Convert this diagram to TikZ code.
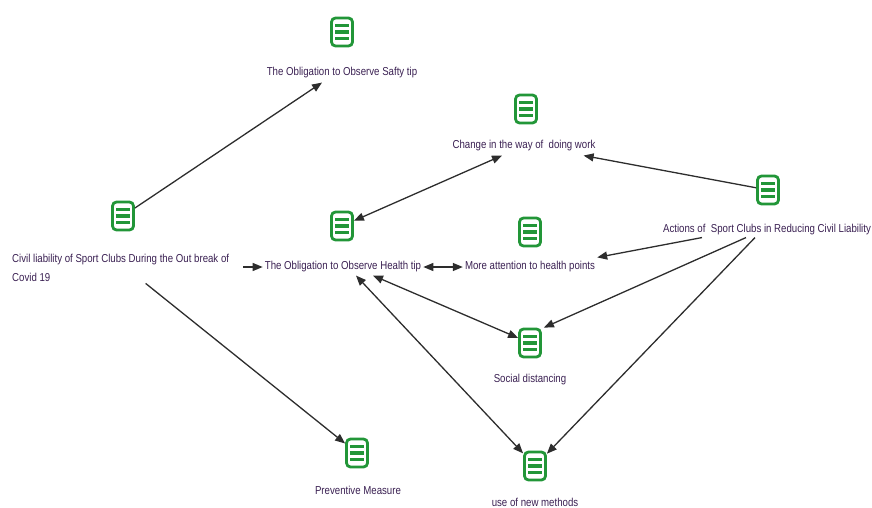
\documentclass[tikz,border=0pt]{standalone}
\usepackage{fontspec}
\setmainfont{Liberation Sans}[FakeStretch=0.84]
\usetikzlibrary{arrows.meta}
\definecolor{icongreen}{RGB}{34,150,56}
\definecolor{txt}{RGB}{58,32,82}
\definecolor{edge}{RGB}{45,45,45}
\tikzset{
  docicon/.style={draw=icongreen, line width=2.8pt, rounded corners=4pt, fill=white,
    minimum width=21pt, minimum height=28pt, inner sep=0pt,
    path picture={
      \foreach \yy in {-6.3,0,6.3}{
        \draw[icongreen, line width=3.4pt] ([xshift=-6.6pt,yshift=\yy pt]path picture bounding box.center) -- ([xshift=6.6pt,yshift=\yy pt]path picture bounding box.center);
      }
    }},
  lbl/.style={text=txt, font=\fontsize{11.5}{19}\selectfont, inner sep=2pt},
  conn/.style={draw=edge, line width=1.3pt, -{Triangle[length=10pt,width=8pt]}},
  bconn/.style={draw=edge, line width=1.3pt, {Triangle[length=10pt,width=8pt]}-{Triangle[length=10pt,width=8pt]}}
}
\begin{document}
\begin{tikzpicture}[x=1pt,y=-1pt]
\useasboundingbox (0,0) rectangle (872,508);
% icons
\node[docicon] (safI) at (342,32) {};
\node[docicon] (chI) at (526,109) {};
\node[docicon] (heaI) at (342,226) {};
\node[docicon] (civI) at (123,216) {};
\node[docicon] (moreI) at (530,232) {};
\node[docicon] (actI) at (768,190) {};
\node[docicon] (socI) at (530,343) {};
\node[docicon] (prevI) at (357,453) {};
\node[docicon] (useI) at (535,466) {};
% labels
\node[lbl] (safL) at (342,73) {The Obligation to Observe Safty tip};
\node[lbl] (chL) at (524,146) {Change in the way of\ \ doing work};
\node[lbl] (heaL) at (343,267) {The Obligation to Observe Health tip};
\node[lbl] (moreL) at (530,267) {More attention to health points};
\node[lbl] (actL) at (767,230) {Actions of\ \ Sport Clubs in Reducing Civil Liability};
\node[lbl] (socL) at (530,380) {Social distancing};
\node[lbl] (prevL) at (358,490) {Preventive Measure};
\node[lbl] (useL) at (535,502) {use of new methods};
\node[lbl, anchor=west, align=left] (civL) at (10,267.5) {Civil liability of Sport Clubs During the Out break of\\Covid 19};
% connectors
\draw[conn] (civI) -- ([xshift=-20pt,yshift=-2pt]safL.south);
\draw[conn, shorten <=12pt] (civL.east |- heaL.west) -- (heaL.west);
\draw[conn] ([xshift=25pt]civL.south) -- (prevI);
\draw[bconn] (heaI) -- ([xshift=-22pt,yshift=-2pt]chL.south);
\draw[conn] (actI) -- ([xshift=-14pt,yshift=-2pt]chL.south east);
\draw[bconn] (heaL.east) -- (moreL.west);
\draw[conn] ([xshift=-65pt]actL.south) -- ([yshift=2pt]moreL.north east);
\draw[conn] ([xshift=-21pt]actL.south) -- ([xshift=2pt]socI.north east);
\draw[conn] ([xshift=-12pt]actL.south) -- (useI);
\draw[bconn] ([xshift=30pt,yshift=-1pt]heaL.south) -- (socI);
\draw[bconn] ([xshift=13pt,yshift=-1pt]heaL.south) -- (useI);
\end{tikzpicture}
\end{document}
